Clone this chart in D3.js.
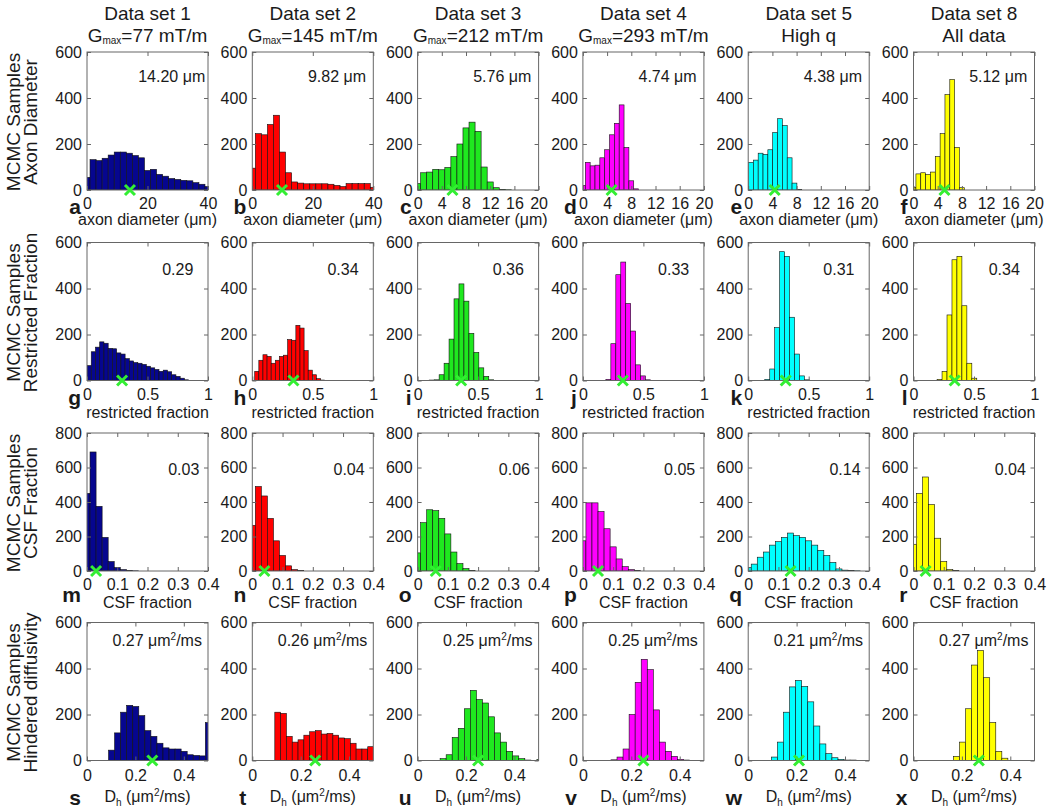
<!DOCTYPE html>
<html>
<head>
<meta charset="utf-8">
<script src="https://cdn.jsdelivr.net/npm/d3@7"></script>
<style>
  body { margin: 0; background: #fff; }
  svg text { font-family: "Liberation Sans", Arial, sans-serif; fill: #1a1a1a; }
</style>
</head>
<body>
<svg id="fig" width="1050" height="808"></svg>
<script>
// column headings
var setNames = ["Data set 1", "Data set 2", "Data set 3", "Data set 4", "Data set 5", "Data set 8"];
var gmaxValues = ["77", "145", "212", "293", null, null];
var otherSubtitles = [null, null, null, null, "High q", "All data"];
var barColors = ["#06068f", "#ff0000", "#1fe81f", "#ff00ff", "#00ffff", "#ffff00"];
var rowNames = ["Axon Diameter", "Restricted Fraction", "CSF Fraction", "Hindered diffusivity"];
var panelLetters = "abcdefghijklmnopqrstuvwx".split("");

// estimate printed in each panel (the green cross sits at the same value)
var axonEst = [14.20, 9.82, 5.76, 4.74, 4.38, 5.12];
var restrictedEst = [0.29, 0.34, 0.36, 0.33, 0.31, 0.34];
var csfEst = [0.03, 0.04, 0.06, 0.05, 0.14, 0.04];
var dhEst = [0.27, 0.26, 0.25, 0.25, 0.21, 0.27];

// histogram counts, left edge of first bin and bin width, one entry per data set
var axonCounts = [
  [55, 132, 128, 138, 152, 165, 165, 160, 150, 140, 85, 90, 68, 60, 50, 46, 42, 40, 32, 25, 15],
  [95, 245, 240, 285, 325, 165, 75, 35, 30, 27, 27, 27, 27, 25, 20, 15, 28, 28, 28, 28, 12],
  [28, 75, 78, 90, 88, 98, 145, 200, 270, 295, 255, 100, 35, 10, 3, 1],
  [20, 120, 105, 108, 140, 175, 240, 290, 370, 185, 40, 5],
  [120, 130, 160, 155, 175, 250, 310, 280, 140, 30, 2],
  [12, 70, 75, 68, 78, 145, 245, 415, 480, 185, 10]
];
var axonStart = [-1, -1, -0.5, -0.4, 0.05, -0.4];
var axonWidth = [2, 2, 1, 0.8, 0.8, 0.8];
var axonXMax = [40, 40, 20, 20, 20, 20];

var restrictedCounts = [
  [65, 125, 145, 168, 162, 140, 138, 120, 115, 95, 85, 78, 75, 70, 62, 55, 48, 40, 45, 38, 25, 18, 10, 3],
  [40, 88, 112, 105, 75, 88, 105, 110, 178, 175, 240, 228, 130, 45, 25, 8, 2],
  [2, 3, 25, 75, 180, 355, 420, 345, 205, 122, 55, 18, 3],
  [5, 160, 460, 515, 335, 215, 68, 20, 3],
  [5, 50, 230, 560, 540, 275, 115, 20, 3],
  [5, 40, 285, 525, 540, 325, 75, 10]
];
var restrictedStart = [0, 0.02, 0.096, 0.19, 0.137, 0.195];
var restrictedWidth = [0.035, 0.034, 0.041, 0.041, 0.041, 0.041];

var csfCounts = [
  [450, 690, 375, 195, 55, 20, 8, 3, 1],
  [265, 490, 435, 305, 175, 90, 30, 8, 2],
  [105, 280, 355, 350, 305, 215, 110, 43, 14, 3],
  [175, 395, 395, 345, 245, 140, 70, 25, 8, 2],
  [20, 40, 80, 110, 150, 170, 195, 220, 205, 195, 175, 150, 120, 90, 50, 12, 5, 2, 1],
  [155, 450, 545, 385, 190, 55, 8, 2]
];
var csfStart = [-0.01, -0.01, -0.01, -0.01, -0.01, -0.01];
var csfWidth = [0.02, 0.02, 0.02, 0.02, 0.02, 0.02];

var dhCounts = [
  [45, 120, 210, 240, 235, 195, 130, 105, 75, 55, 50, 50, 40, 25, 22, 20, 165],
  [210, 205, 105, 80, 90, 110, 125, 130, 115, 118, 110, 98, 95, 75, 50, 50, 60],
  [8, 25, 100, 140, 225, 305, 265, 250, 190, 120, 80, 40, 20, 8, 2, 0, 4],
  [3, 15, 50, 200, 340, 440, 395, 220, 80, 40, 18, 5, 2],
  [15, 80, 210, 320, 348, 322, 255, 150, 72, 30, 12, 5, 2, 2],
  [18, 80, 225, 415, 478, 360, 165, 40, 10]
];
var dhStart = [0.089, 0.093, 0.093, 0.116, 0.096, 0.165];
var dhWidth = [0.025, 0.024, 0.025, 0.025, 0.025, 0.025];

// tick values
var axonTicksWide = [0, 20, 40];
var axonTicksNarrow = [0, 4, 8, 12, 16, 20];
var fractionTicks = [0, 0.5, 1];
var csfTicks = [0, 0.1, 0.2, 0.3, 0.4];
var dhTicks = [0, 0.2, 0.4];
var countTicks = [0, 200, 400, 600];
var csfCountTicks = [0, 200, 400, 600, 800];

var rows = [
  { counts: axonCounts, start: axonStart, width: axonWidth, est: axonEst,
    xMax: function(c) { return axonXMax[c]; },
    xTicks: function(c) { return axonXMax[c] === 40 ? axonTicksWide : axonTicksNarrow; },
    yMax: 600, yTicks: countTicks, unit: "um", xlabel: "axon diameter (\u03bcm)" },
  { counts: restrictedCounts, start: restrictedStart, width: restrictedWidth, est: restrictedEst,
    xMax: function() { return 1; }, xTicks: function() { return fractionTicks; },
    yMax: 600, yTicks: countTicks, unit: "", xlabel: "restricted fraction" },
  { counts: csfCounts, start: csfStart, width: csfWidth, est: csfEst,
    xMax: function() { return 0.4; }, xTicks: function() { return csfTicks; },
    yMax: 800, yTicks: csfCountTicks, unit: "", xlabel: "CSF fraction" },
  { counts: dhCounts, start: dhStart, width: dhWidth, est: dhEst,
    xMax: function() { return 0.5; }, xTicks: function() { return dhTicks; },
    yMax: 600, yTicks: countTicks, unit: "um2ms", xlabel: "Dh" }
];

// layout
var pw = 121, ph = 138;
var rowTop = [52, 242.5, 433, 622.5];
var tickBase = [19, 20, 19, 21];
var xlabelBase = [35, 37, 37, 41];
var letterBase = [24, 24, 31, 44];
var noteBase = [29.5, 32, 42, 23];
var noteCenter = [0.70, 0.75, 0.80, 0.58];
function colLeft(c) { return 87 + c * 165.3; }

var svg = d3.select("#fig");
var defs = svg.append("defs");
var fmt = d3.format("~g");

// column titles
setNames.forEach(function(name, c) {
  var cx = colLeft(c) + pw / 2;
  svg.append("text").attr("x", cx).attr("y", 20).attr("text-anchor", "middle")
    .attr("font-size", 19).text(name);
  var t = svg.append("text").attr("x", cx).attr("y", 42).attr("text-anchor", "middle")
    .attr("font-size", 19);
  if (gmaxValues[c]) {
    t.append("tspan").text("G");
    t.append("tspan").attr("font-size", 10).attr("dy", 2).text("max");
    t.append("tspan").attr("dy", -2).text("=" + gmaxValues[c] + " mT/m");
  } else {
    t.text(otherSubtitles[c]);
  }
});

rows.forEach(function(row, r) {
  var top = rowTop[r];

  // row label
  [["MCMC Samples", 20], [rowNames[r], 37]].forEach(function(l) {
    svg.append("text")
      .attr("transform", "translate(" + l[1] + "," + (top + ph / 2 + 1) + ") rotate(-90)")
      .attr("text-anchor", "middle").attr("font-size", 19).text(l[0]);
  });

  for (var c = 0; c < 6; c++) {
    var k = r * 6 + c;
    var left = colLeft(c);
    var g = svg.append("g").attr("transform", "translate(" + left + "," + top + ")");

    var x = d3.scaleLinear().domain([0, row.xMax(c)]).range([0, pw]);
    var y = d3.scaleLinear().domain([0, row.yMax]).range([ph, 0]);

    defs.append("clipPath").attr("id", "clip" + k)
      .append("rect").attr("width", pw).attr("height", ph);

    var st = row.start[c], bw = row.width[c];
    var bins = row.counts[c].map(function(n, i) {
      return { x0: st + i * bw, x1: st + (i + 1) * bw, n: n };
    });

    g.append("g").attr("clip-path", "url(#clip" + k + ")")
      .selectAll("rect").data(bins).enter().append("rect")
      .attr("x", function(d) { return x(d.x0); })
      .attr("width", function(d) { return x(d.x1) - x(d.x0); })
      .attr("y", function(d) { return y(d.n); })
      .attr("height", function(d) { return y(0) - y(d.n); })
      .attr("fill", barColors[c])
      .attr("stroke", "#111")
      .attr("stroke-width", 0.6);

    // axes: ticks pointing inwards on all four sides
    var ticks = row.xTicks(c);
    var bottom = g.append("g").attr("transform", "translate(0," + ph + ")")
      .call(d3.axisBottom(x).tickValues(ticks).tickSize(-4)
        .tickPadding(tickBase[r] - 11.4).tickFormat(fmt));
    var topAx = g.append("g")
      .call(d3.axisTop(x).tickValues(ticks).tickSize(-4).tickFormat(""));
    var leftAx = g.append("g")
      .call(d3.axisLeft(y).tickValues(row.yTicks).tickSize(-4).tickPadding(5).tickFormat(fmt));
    var rightAx = g.append("g").attr("transform", "translate(" + pw + ",0)")
      .call(d3.axisRight(y).tickValues(row.yTicks).tickSize(-4).tickFormat(""));
    [bottom, topAx, leftAx, rightAx].forEach(function(a) {
      a.select(".domain").remove();
      a.attr("font-size", 16).attr("font-family", null);
      a.selectAll("line").attr("stroke", "#666");
    });

    g.append("rect").attr("width", pw).attr("height", ph)
      .attr("fill", "none").attr("stroke", "#666").attr("stroke-width", 1);

    // estimate marker
    g.append("path")
      .attr("transform", "translate(" + x(row.est[c]) + "," + ph + ")")
      .attr("d", "M-5,-5L5,5M-5,5L5,-5")
      .attr("stroke", "#33ee33").attr("stroke-width", 3).attr("fill", "none");

    // estimate text
    var note = g.append("text")
      .attr("x", pw * noteCenter[r]).attr("y", noteBase[r])
      .attr("text-anchor", "middle").attr("font-size", 16);
    var val = row.est[c].toFixed(2);
    if (row.unit === "um") {
      note.text(val + " \u03bcm");
    } else if (row.unit === "um2ms") {
      note.append("tspan").text(val + " \u03bcm");
      note.append("tspan").attr("font-size", 10).attr("dy", -6).text("2");
      note.append("tspan").attr("dy", 6).text("/ms");
    } else {
      note.text(val);
    }

    // x label
    var xl = g.append("text").attr("x", pw / 2).attr("y", ph + xlabelBase[r])
      .attr("text-anchor", "middle").attr("font-size", 16);
    if (row.xlabel === "Dh") {
      xl.append("tspan").text("D");
      xl.append("tspan").attr("font-size", 10).attr("dy", 4).text("h");
      xl.append("tspan").attr("dy", -4).text(" (\u03bcm");
      xl.append("tspan").attr("font-size", 10).attr("dy", -6).text("2");
      xl.append("tspan").attr("dy", 6).text("/ms)");
    } else {
      xl.text(row.xlabel);
    }

    // panel letter
    g.append("text").attr("x", -6).attr("y", ph + letterBase[r])
      .attr("text-anchor", "end").attr("font-size", 21).attr("font-weight", "bold")
      .text(panelLetters[k]);
  }
});
</script>
</body>
</html>
